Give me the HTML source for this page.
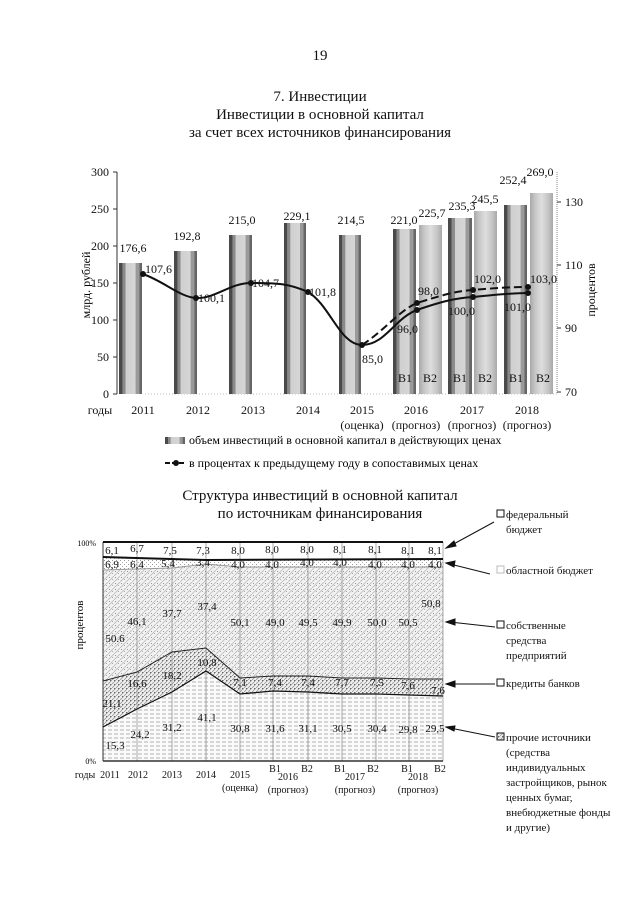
<!DOCTYPE html>
<html><head><meta charset="utf-8"><style>
html,body{margin:0;padding:0;background:#fff;}
svg{display:block;font-family:"Liberation Serif",serif;}
</style></head><body>
<svg width="640" height="905" viewBox="0 0 640 905" xmlns="http://www.w3.org/2000/svg">
<defs>
<linearGradient id="bar" x1="0" x2="1" y1="0" y2="0">
<stop offset="0" stop-color="#4a4a4a"/><stop offset="0.14" stop-color="#4a4a4a"/>
<stop offset="0.15" stop-color="#8a8a8a"/><stop offset="0.28" stop-color="#8a8a8a"/>
<stop offset="0.29" stop-color="#cfcfcf"/><stop offset="0.72" stop-color="#d6d6d6"/>
<stop offset="0.73" stop-color="#9a9a9a"/><stop offset="0.88" stop-color="#9a9a9a"/>
<stop offset="0.89" stop-color="#666"/><stop offset="1" stop-color="#666"/>
</linearGradient>
<linearGradient id="bar2" x1="0" x2="1" y1="0" y2="0">
<stop offset="0" stop-color="#a8a8a8"/><stop offset="0.2" stop-color="#c4c4c4"/>
<stop offset="0.5" stop-color="#dedede"/><stop offset="0.8" stop-color="#c4c4c4"/><stop offset="1" stop-color="#a8a8a8"/>
</linearGradient>
<pattern id="dots" width="4" height="4" patternUnits="userSpaceOnUse"><rect width="4" height="4" fill="#fff"/><rect x="0" y="0" width="1" height="1" fill="#999"/><rect x="2" y="2" width="1" height="1" fill="#aaa"/></pattern>
<pattern id="own" width="6" height="6" patternUnits="userSpaceOnUse"><rect width="6" height="6" fill="#f2f2f2"/><path d="M0 6 L6 0" stroke="#bbb" stroke-width="0.8"/><rect x="1" y="1" width="1" height="1" fill="#999"/><rect x="4" y="3" width="1" height="1" fill="#aaa"/></pattern>
<pattern id="cred" width="4" height="4" patternUnits="userSpaceOnUse"><rect width="4" height="4" fill="#eee"/><path d="M0 4 L4 0" stroke="#777" stroke-width="0.6"/><rect x="2" y="0" width="1" height="1" fill="#666"/></pattern>
<pattern id="oth" width="6" height="4" patternUnits="userSpaceOnUse"><rect width="6" height="4" fill="#fafafa"/><path d="M0 2 L4 2" stroke="#aaa" stroke-width="0.9"/></pattern>
</defs>

<g font-size="15" text-anchor="middle" fill="#111">
<text x="320" y="60">19</text>
<text x="320" y="101">7. Инвестиции</text>
<text x="320" y="119">Инвестиции в основной капитал</text>
<text x="320" y="137">за счет всех источников финансирования</text>
</g>

<g stroke="#777" stroke-width="0.6" stroke-dasharray="1,2">
<line x1="145" y1="394" x2="557" y2="394"/>
</g>
<line x1="117" y1="172" x2="117" y2="394" stroke="#333" stroke-width="1"/>
<line x1="557" y1="172" x2="557" y2="394" stroke="#666" stroke-width="0.8" stroke-dasharray="1,1"/>
<g stroke="#333" stroke-width="1">
<line x1="113" y1="172" x2="117" y2="172"/><line x1="113" y1="209" x2="117" y2="209"/><line x1="113" y1="246" x2="117" y2="246"/><line x1="113" y1="283" x2="117" y2="283"/><line x1="113" y1="320" x2="117" y2="320"/><line x1="113" y1="357" x2="117" y2="357"/><line x1="113" y1="394" x2="117" y2="394"/>
<line x1="557" y1="202" x2="561" y2="202"/><line x1="557" y1="265" x2="561" y2="265"/><line x1="557" y1="328" x2="561" y2="328"/><line x1="557" y1="392" x2="561" y2="392"/>
</g>
<g font-size="12" text-anchor="end" fill="#111">
<text x="109" y="176">300</text><text x="109" y="213">250</text><text x="109" y="250">200</text><text x="109" y="287">150</text><text x="109" y="324">100</text><text x="109" y="361">50</text><text x="109" y="398">0</text>
</g>
<g font-size="12" fill="#111">
<text x="565" y="206">130</text><text x="565" y="269">110</text><text x="565" y="332">90</text><text x="565" y="396">70</text>
</g>
<text transform="translate(90,285) rotate(-90)" font-size="12" text-anchor="middle">млрд. рублей</text>
<text transform="translate(595,290) rotate(-90)" font-size="12" text-anchor="middle">процентов</text>

<g>
<rect x="119" y="263" width="23" height="131" fill="url(#bar)"/>
<rect x="174" y="251" width="23" height="143" fill="url(#bar)"/>
<rect x="229" y="235" width="23" height="159" fill="url(#bar)"/>
<rect x="284" y="223" width="22" height="171" fill="url(#bar)"/>
<rect x="339" y="235" width="22" height="159" fill="url(#bar)"/>
<rect x="393" y="229" width="23" height="165" fill="url(#bar)"/>
<rect x="419" y="225" width="23" height="169" fill="url(#bar2)"/>
<rect x="448" y="218" width="24" height="176" fill="url(#bar)"/>
<rect x="474" y="211" width="23" height="183" fill="url(#bar2)"/>
<rect x="504" y="205" width="23" height="189" fill="url(#bar)"/>
<rect x="530" y="193" width="23" height="201" fill="url(#bar2)"/>
</g>
<g font-size="12" fill="#111" text-anchor="middle">
<text x="133" y="252">176,6</text><text x="187" y="240">192,8</text><text x="242" y="224">215,0</text><text x="297" y="220">229,1</text><text x="351" y="224">214,5</text>
<text x="404" y="224">221,0</text><text x="432" y="217">225,7</text><text x="462" y="210">235,3</text><text x="485" y="203">245,5</text><text x="513" y="184">252,4</text><text x="540" y="176">269,0</text>
<text x="405" y="382">В1</text><text x="430" y="382">В2</text><text x="460" y="382">В1</text><text x="485" y="382">В2</text><text x="516" y="382">В1</text><text x="543" y="382">В2</text>
</g>
<path d="M143 274 C165 282 180 297 196 298 C215 299 230 283 251 283 C280 283 290 284 308 292 C330 305 340 345 362 345 C385 345 395 318 417 310 C440 302 455 298 473 297 C495 295 510 293 528 293" fill="none" stroke="#111" stroke-width="2"/>
<path d="M362 345 C385 330 400 310 417 303 C440 296 455 291 473 290 C495 288 510 287 528 287" fill="none" stroke="#111" stroke-width="2" stroke-dasharray="8,4"/>
<g fill="#111">
<circle cx="143" cy="274" r="3"/><circle cx="196" cy="298" r="3"/><circle cx="251" cy="283" r="3"/><circle cx="308" cy="292" r="3"/><circle cx="362" cy="345" r="3"/>
<circle cx="417" cy="310" r="3"/><circle cx="417" cy="303" r="3"/><circle cx="473" cy="297" r="3"/><circle cx="473" cy="290" r="3"/><circle cx="528" cy="293" r="3"/><circle cx="528" cy="287" r="3"/>
</g>
<g font-size="12" fill="#111">
<text x="145" y="273">107,6</text><text x="198" y="302">100,1</text><text x="252" y="287">104,7</text><text x="309" y="296">101,8</text><text x="362" y="363">85,0</text>
<text x="397" y="333">96,0</text><text x="418" y="295">98,0</text><text x="448" y="315">100,0</text><text x="474" y="283">102,0</text><text x="504" y="311">101,0</text><text x="530" y="283">103,0</text>
</g>
<g font-size="12" fill="#111" text-anchor="middle">
<text x="100" y="414">годы</text>
<text x="143" y="414">2011</text><text x="198" y="414">2012</text><text x="253" y="414">2013</text><text x="308" y="414">2014</text><text x="362" y="414">2015</text><text x="416" y="414">2016</text><text x="472" y="414">2017</text><text x="527" y="414">2018</text>
<text x="362" y="429">(оценка)</text><text x="416" y="429">(прогноз)</text><text x="472" y="429">(прогноз)</text><text x="527" y="429">(прогноз)</text>
</g>
<rect x="165" y="437" width="20" height="7" fill="url(#bar)"/>
<text x="189" y="444" font-size="12">объем инвестиций в основной капитал в действующих ценах</text>
<line x1="165" y1="463" x2="186" y2="463" stroke="#111" stroke-width="2" stroke-dasharray="5,2"/><circle cx="176" cy="463" r="3" fill="#111"/>
<text x="189" y="467" font-size="12">в процентах к предыдущему году в сопоставимых ценах</text>

<g font-size="15" text-anchor="middle" fill="#111">
<text x="320" y="500">Структура инвестиций в основной капитал</text>
<text x="320" y="518">по источникам финансирования</text>
</g>
<rect x="103" y="542" width="340" height="219" fill="#fff"/>
<polygon points="103,570 137,569 172,568 206,564 240,567 273,567 308,567 342,567 376,567 409,567 443,567 443,681 409,679 376,678 342,678 308,676 273,676 240,678 206,648 172,652 137,672 103,681" fill="url(#own)"/>
<polygon points="103,558 206,560 443,559 443,567 240,567 206,564 172,568 137,569 103,570" fill="url(#dots)"/>
<polygon points="103,681 137,672 172,652 206,648 240,678 273,676 308,676 342,678 376,678 409,679 443,679 443,696 409,695 376,694 342,694 308,692 273,691 240,694 206,671 172,692 137,709 103,727" fill="url(#cred)"/>
<polygon points="103,727 137,709 172,692 206,671 240,694 273,691 308,692 342,694 376,694 409,695 443,696 443,761 103,761" fill="url(#oth)"/>
<g stroke="#888" stroke-width="0.7">
<line x1="137" y1="542" x2="137" y2="761"/><line x1="172" y1="542" x2="172" y2="761"/><line x1="206" y1="542" x2="206" y2="761"/><line x1="240" y1="542" x2="240" y2="761"/><line x1="273" y1="542" x2="273" y2="761"/><line x1="308" y1="542" x2="308" y2="761"/><line x1="342" y1="542" x2="342" y2="761"/><line x1="376" y1="542" x2="376" y2="761"/><line x1="409" y1="542" x2="409" y2="761"/><line x1="443" y1="542" x2="443" y2="761"/>
</g>
<line x1="103" y1="542" x2="103" y2="761" stroke="#333" stroke-width="1"/>
<line x1="103" y1="542" x2="443" y2="542" stroke="#111" stroke-width="2"/>
<polyline points="103,557 206,560 443,559" fill="none" stroke="#111" stroke-width="2"/>
<polyline points="103,570 137,569 172,568 206,564 240,567 443,567" fill="none" stroke="#999" stroke-width="1"/>
<polyline points="103,681 137,672 172,652 206,648 240,678 273,676 308,676 342,678 376,678 409,679 443,679" fill="none" stroke="#222" stroke-width="1"/>
<polyline points="103,727 137,709 172,692 206,671 240,694 273,691 308,692 342,694 376,694 409,695 443,696" fill="none" stroke="#111" stroke-width="1.2"/>
<line x1="103" y1="761" x2="443" y2="761" stroke="#333" stroke-width="1.5"/>
<text x="96" y="546" font-size="8" text-anchor="end">100%</text>
<text x="96" y="764" font-size="8" text-anchor="end">0%</text>
<text transform="translate(83,625) rotate(-90)" font-size="11" text-anchor="middle">процентов</text>
<g font-size="11" fill="#111" text-anchor="middle">
<text x="112" y="554">6,1</text><text x="137" y="552">6,7</text><text x="170" y="554">7,5</text><text x="203" y="554">7,3</text><text x="238" y="554">8,0</text><text x="272" y="553">8,0</text><text x="307" y="553">8,0</text><text x="340" y="553">8,1</text><text x="375" y="553">8,1</text><text x="408" y="554">8,1</text><text x="435" y="554">8,1</text>
<text x="112" y="568">6,9</text><text x="137" y="568">6,4</text><text x="168" y="567">5,4</text><text x="203" y="566">3,4</text><text x="238" y="568">4,0</text><text x="272" y="568">4,0</text><text x="307" y="566">4,0</text><text x="340" y="566">4,0</text><text x="375" y="568">4,0</text><text x="408" y="568">4,0</text><text x="435" y="568">4,0</text>
<text x="115" y="642">50.6</text><text x="137" y="625">46,1</text><text x="172" y="617">37,7</text><text x="207" y="610">37,4</text><text x="240" y="626">50,1</text><text x="275" y="626">49,0</text><text x="308" y="626">49,5</text><text x="342" y="626">49,9</text><text x="377" y="626">50,0</text><text x="408" y="626">50,5</text><text x="431" y="607">50,8</text>
<text x="112" y="707">21,1</text><text x="137" y="687">16,6</text><text x="172" y="679">18,2</text><text x="207" y="666">10,8</text><text x="240" y="686">7,1</text><text x="275" y="686">7,4</text><text x="308" y="686">7,4</text><text x="342" y="686">7,7</text><text x="377" y="686">7,5</text><text x="408" y="689">7,6</text><text x="438" y="694">7,6</text>
<text x="115" y="749">15,3</text><text x="140" y="738">24,2</text><text x="172" y="731">31,2</text><text x="207" y="721">41,1</text><text x="240" y="732">30,8</text><text x="275" y="732">31,6</text><text x="308" y="732">31,1</text><text x="342" y="732">30,5</text><text x="377" y="732">30,4</text><text x="408" y="733">29,8</text><text x="435" y="732">29,5</text>
</g>
<g font-size="10" fill="#111" text-anchor="middle">
<text x="85" y="778">годы</text>
<text x="110" y="778">2011</text><text x="138" y="778">2012</text><text x="172" y="778">2013</text><text x="206" y="778">2014</text><text x="240" y="778">2015</text>
<text x="288" y="780">2016</text><text x="355" y="780">2017</text><text x="418" y="780">2018</text>
<text x="275" y="772">В1</text><text x="307" y="772">В2</text><text x="340" y="772">В1</text><text x="373" y="772">В2</text><text x="407" y="772">В1</text><text x="440" y="772">В2</text>
<text x="240" y="791">(оценка)</text><text x="288" y="793">(прогноз)</text><text x="355" y="793">(прогноз)</text><text x="418" y="793">(прогноз)</text>
</g>
<g font-size="11" fill="#111">
<rect x="497" y="510" width="7" height="7" fill="#fff" stroke="#111" stroke-width="1"/>
<text x="506" y="518">федеральный</text><text x="506" y="533">бюджет</text>
<rect x="497" y="566" width="7" height="7" fill="#fff" stroke="#bbb" stroke-width="1"/>
<text x="506" y="574">областной бюджет</text>
<rect x="497" y="621" width="7" height="7" fill="#fff" stroke="#111" stroke-width="1"/>
<text x="506" y="629">собственные</text><text x="506" y="644">средства</text><text x="506" y="659">предприятий</text>
<rect x="497" y="679" width="7" height="7" fill="#fff" stroke="#111" stroke-width="1"/>
<text x="506" y="687">кредиты банков</text>
<rect x="497" y="733" width="7" height="7" fill="url(#cred)" stroke="#111" stroke-width="1"/>
<text x="506" y="741">прочие источники</text><text x="506" y="756">(средства</text><text x="506" y="771">индивидуальных</text><text x="506" y="786">застройщиков, рынок</text><text x="506" y="801">ценных бумаг,</text><text x="506" y="816">внебюджетные фонды</text><text x="506" y="831">и другие)</text>
</g>
<g stroke="#111" stroke-width="1" fill="#111">
<line x1="494" y1="522" x2="450" y2="546"/><polygon points="446,548 454,541 456,546"/>
<line x1="490" y1="574" x2="450" y2="564"/><polygon points="446,563 455,561 454,567"/>
<line x1="495" y1="627" x2="450" y2="622"/><polygon points="446,622 455,619 455,625"/>
<line x1="495" y1="684" x2="450" y2="684"/><polygon points="446,684 455,681 455,687"/>
<line x1="495" y1="737" x2="450" y2="728"/><polygon points="446,727 455,726 454,731"/>
</g>
</svg>
</body></html>
